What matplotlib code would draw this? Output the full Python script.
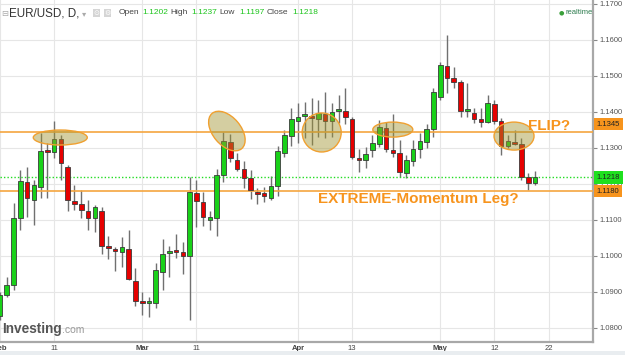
import matplotlib
matplotlib.use("Agg")
import matplotlib.pyplot as plt
import matplotlib.transforms as mtransforms
from matplotlib.patches import Ellipse, Rectangle
import pandas as pd

# EUR/USD daily candles (Feb 1 .. May 20)
opens = [1.0833, 1.0892, 1.0919, 1.1106, 1.1206, 1.1156, 1.1192, 1.1292, 1.1289, 1.1325,
         1.1247, 1.1153, 1.1144, 1.1125, 1.1106, 1.1125, 1.1028, 1.1019, 1.1011, 1.1019,
         1.0931, 1.0872, 1.0869, 1.0869, 1.0956, 1.1008, 1.1014, 1.1011, 1.1000, 1.1175,
         1.1150, 1.1100, 1.1106, 1.1225, 1.1317, 1.1267, 1.1242, 1.1217, 1.1178, 1.1175,
         1.1161, 1.1194, 1.1286, 1.1333, 1.1375, 1.1389, 1.1386, 1.1381, 1.1394, 1.1375,
         1.1403, 1.1403, 1.1381, 1.1272, 1.1267, 1.1294, 1.1311, 1.1356, 1.1294, 1.1286,
         1.1231, 1.1264, 1.1297, 1.1317, 1.1353, 1.1442, 1.1528, 1.1494, 1.1483, 1.1403,
         1.1397, 1.1381, 1.1372, 1.1422, 1.1375, 1.1306, 1.1317, 1.1311, 1.1219, 1.1202]
highs = [1.0900, 1.0942, 1.1147, 1.1239, 1.1247, 1.1211, 1.1342, 1.1314, 1.1375, 1.1336,
         1.1253, 1.1197, 1.1183, 1.1156, 1.1142, 1.1136, 1.1056, 1.1025, 1.1053, 1.1072,
         1.0967, 1.0900, 1.0886, 1.0981, 1.1047, 1.1028, 1.1061, 1.1039, 1.1219, 1.1211,
         1.1178, 1.1125, 1.1242, 1.1344, 1.1339, 1.1286, 1.1264, 1.1239, 1.1189, 1.1192,
         1.1222, 1.1306, 1.1350, 1.1411, 1.1425, 1.1428, 1.1439, 1.1433, 1.1456, 1.1425,
         1.1447, 1.1467, 1.1386, 1.1297, 1.1303, 1.1336, 1.1378, 1.1372, 1.1394, 1.1322,
         1.1281, 1.1322, 1.1342, 1.1367, 1.1467, 1.1539, 1.1614, 1.1525, 1.1489, 1.1481,
         1.1411, 1.1411, 1.1447, 1.1433, 1.1383, 1.1336, 1.1350, 1.1328, 1.1231, 1.1237]
lows = [1.0822, 1.0886, 1.0906, 1.1072, 1.1108, 1.1086, 1.1161, 1.1161, 1.1272, 1.1211,
        1.1125, 1.1128, 1.1106, 1.1072, 1.1067, 1.1006, 1.0992, 1.0958, 1.0969, 1.0933,
        1.0861, 1.0836, 1.0831, 1.0856, 1.0906, 1.0942, 1.0994, 1.0950, 1.0822, 1.1081,
        1.1083, 1.1072, 1.1056, 1.1206, 1.1261, 1.1236, 1.1189, 1.1158, 1.1144, 1.1150,
        1.1156, 1.1167, 1.1275, 1.1306, 1.1314, 1.1328, 1.1308, 1.1331, 1.1328, 1.1331,
        1.1369, 1.1367, 1.1269, 1.1233, 1.1244, 1.1275, 1.1303, 1.1289, 1.1275, 1.1219,
        1.1217, 1.1250, 1.1272, 1.1300, 1.1331, 1.1433, 1.1453, 1.1467, 1.1386, 1.1386,
        1.1369, 1.1358, 1.1369, 1.1367, 1.1281, 1.1300, 1.1308, 1.1211, 1.1183, 1.1197]
closes = [1.0892, 1.0919, 1.1106, 1.1208, 1.1161, 1.1197, 1.1292, 1.1289, 1.1325, 1.1258,
          1.1156, 1.1144, 1.1128, 1.1106, 1.1136, 1.1028, 1.1022, 1.1014, 1.1025, 1.0936,
          1.0875, 1.0869, 1.0872, 1.0961, 1.1006, 1.1014, 1.1011, 1.1000, 1.1178, 1.1153,
          1.1108, 1.1108, 1.1225, 1.1319, 1.1272, 1.1242, 1.1217, 1.1183, 1.1172, 1.1167,
          1.1194, 1.1292, 1.1336, 1.1381, 1.1386, 1.1392, 1.1383, 1.1397, 1.1375, 1.1400,
          1.1408, 1.1386, 1.1275, 1.1267, 1.1283, 1.1314, 1.1358, 1.1297, 1.1286, 1.1233,
          1.1267, 1.1297, 1.1319, 1.1353, 1.1456, 1.1531, 1.1494, 1.1483, 1.1403, 1.1406,
          1.1381, 1.1372, 1.1425, 1.1375, 1.1306, 1.1319, 1.1311, 1.1219, 1.1203, 1.1218]

tick_dates = ["2016-02-01", "2016-02-11", "2016-03-01", "2016-03-11", "2016-04-01",
              "2016-04-13", "2016-05-02", "2016-05-12", "2016-05-22"]
tick_text = ["Feb", "11", "Mar", "11", "Apr", "13", "May", "12", "22"]

levels = [1.1345, 1.1180]       # drawn orange lines
last_price = 1.1218
y_ticks = [1.08, 1.09, 1.10, 1.11, 1.12, 1.13, 1.14, 1.15, 1.16, 1.17]

# annotation ellipses: (x index, price, width px, height px, angle)
ellipses = [(8.9, 1.1329, 54, 15, 0), (33.5, 1.1347, 46, 28, -50),
            (47.5, 1.1343, 39, 39, 0), (58.0, 1.1351, 40, 15, 0),
            (75.9, 1.1333, 40, 28, 0)]

plt.rcParams['font.family'] = ['Liberation Sans', 'DejaVu Sans']

W, H = 625, 355
fig = plt.figure(figsize=(W / 100, H / 100), dpi=100)
ax = fig.add_axes([0, 13 / H, 593 / W, 342 / H])

dates = pd.bdate_range("2016-02-01", periods=len(closes))
idx = list(range(len(closes)))

GREEN = '#19d119'
RED = '#e60000'
ORANGE = '#f7941d'

# wicks then bodies
ax.vlines(idx, lows, highs, color='#707070', lw=1, zorder=2)
colors = [GREEN if c >= o else RED for o, c in zip(opens, closes)]
bottoms = [min(o, c) for o, c in zip(opens, closes)]
heights = [max(abs(c - o), 0.0005) for o, c in zip(opens, closes)]
ax.bar(idx, heights, bottom=bottoms, width=0.68, color=colors,
       edgecolor='#3a3a3a', linewidth=0.6, zorder=3)

# levels
for lv in levels:
    ax.axhline(lv, color='#f5a640', lw=1.2, zorder=2.6)
ax.axhline(last_price, color='#22dd22', lw=1, ls=(0, (1, 1.5)), zorder=2.6)

# ellipses
for cx, cy, w, h, a in ellipses:
    tr = fig.dpi_scale_trans + mtransforms.ScaledTranslation(cx, cy, ax.transData)
    ax.add_patch(Ellipse((0, 0), w / 100, h / 100, angle=a, transform=tr,
                         facecolor='#a09430', alpha=0.45, edgecolor='none', zorder=4))
    ax.add_patch(Ellipse((0, 0), w / 100, h / 100, angle=a, transform=tr,
                         facecolor='none', edgecolor='#f0a030', lw=1, zorder=4))

ax.text(78.0, 1.1361, "FLIP?", color=ORANGE, fontsize=11, fontweight='bold',
        ha='left', va='center', zorder=5)
ax.text(46.97, 1.1158, "EXTREME-Momentum Leg?", color=ORANGE, fontsize=11,
        fontweight='bold', ha='left', va='center', zorder=5)

# axes limits and ticks
ax.set_xlim(0.03, 87.56)
ax.set_ylim(1.0761, 1.1711)

tick_pos = []
for d in pd.to_datetime(tick_dates):
    if d in dates:
        tick_pos.append(dates.get_loc(d))
    else:
        tick_pos.append(idx[-1] + (d - dates[-1]).days)
ax.set_xticks(tick_pos)
ax.set_xticklabels(tick_text)
for lab in ax.get_xticklabels():
    if lab.get_text().isalpha():
        lab.set_fontweight('bold')
ax.tick_params(axis='x', length=0, labelsize=5.5, labelcolor='#444', pad=2.5)

ax.yaxis.tick_right()
ax.set_yticks(y_ticks)
ax.set_yticklabels([f"{v:.4f}" for v in y_ticks])
ax.tick_params(axis='y', length=3, width=0.8, color='#888', labelsize=5.5,
               labelcolor='#555', pad=2)

ax.grid(True, color='#e6e6e6', lw=0.8)
ax.set_axisbelow(True)
for s in ['left', 'top']:
    ax.spines[s].set_visible(False)
for s in ['right', 'bottom']:
    ax.spines[s].set_color('#a8a8a8')
    ax.spines[s].set_linewidth(1.6)

# price boxes on right axis
box_trans = mtransforms.blended_transform_factory(ax.transAxes, ax.transData)
ax.annotate(f"{levels[0]:.4f}", (1.0, levels[0]), xycoords=box_trans,
            xytext=(2.5, 5.5), textcoords='offset points', fontsize=5.5, color='#222',
            va='center', ha='left', annotation_clip=False, zorder=6,
            bbox=dict(boxstyle='square,pad=0.35', fc=ORANGE, ec='none'))
ax.annotate(f"{last_price:.4f}", (1.0, last_price), xycoords=box_trans,
            xytext=(2.5, 0), textcoords='offset points', fontsize=5.5, color='#222',
            va='center', ha='left', annotation_clip=False, zorder=6,
            bbox=dict(boxstyle='square,pad=0.35', fc='#1ee01e', ec='none'))
ax.annotate(f"{levels[1]:.4f}", (1.0, levels[1]), xycoords=box_trans,
            xytext=(2.5, 0), textcoords='offset points', fontsize=5.5, color='#222',
            va='center', ha='left', annotation_clip=False, zorder=6,
            bbox=dict(boxstyle='square,pad=0.35', fc=ORANGE, ec='none'))


def fx(x):
    return x / W


def fy(y):
    return 1 - y / H


# header
fig.text(fx(1), fy(13), "⊟", fontsize=6, color='#aaa', va='center', family='DejaVu Sans')
fig.text(fx(9), fy(13), "EUR/USD, D,", fontsize=8.4, color='#333', va='center')
fig.text(fx(82), fy(13.5), "▾", fontsize=6, color='#aaa', va='center', family='DejaVu Sans')
for x0 in [93, 104]:
    fig.patches.append(Rectangle((fx(x0), fy(17)), 7 / W, 8 / H, transform=fig.transFigure,
                                 fc='#d5d5d5', ec='none'))
fig.text(fx(96.5), fy(13), "⊙", fontsize=5, color='white', va='center', ha='center',
         family='DejaVu Sans')
fig.text(fx(107.5), fy(13), "⚙", fontsize=5, color='white', va='center', ha='center',
         family='DejaVu Sans')

header = [("Open", opens[-1]), ("High", highs[-1]), ("Low", lows[-1]), ("Close", closes[-1])]
hx = [(119, 142), (170, 191), (219, 239), (267, 292)]
for (name, val), (x1, x2) in zip(header, hx):
    fig.text(fx(x1), fy(13), name, fontsize=6, color='#444', va='center')
    fig.text(fx(x2), fy(13), f"{val:.4f}", fontsize=6, color='#1ec51e', va='center')

fig.text(fx(559), fy(13), "●", fontsize=4.5, color='#3aa03a', va='center', family='DejaVu Sans')
fig.text(fx(565), fy(13), "realtime", fontsize=5.5, color='#2e7d4f', va='center')

# watermark
fig.text(fx(2), fy(329), "Investing", fontsize=9.8, fontweight='bold', color='#555', va='center')
fig.text(fx(62), fy(330), ".com", fontsize=7.5, color='#999', va='center')

fig.patches.append(Rectangle((0, 0), 1, 4 / H, transform=fig.transFigure,
                             fc='#e9edf0', ec='none'))

fig.savefig("out.png", dpi=100)
